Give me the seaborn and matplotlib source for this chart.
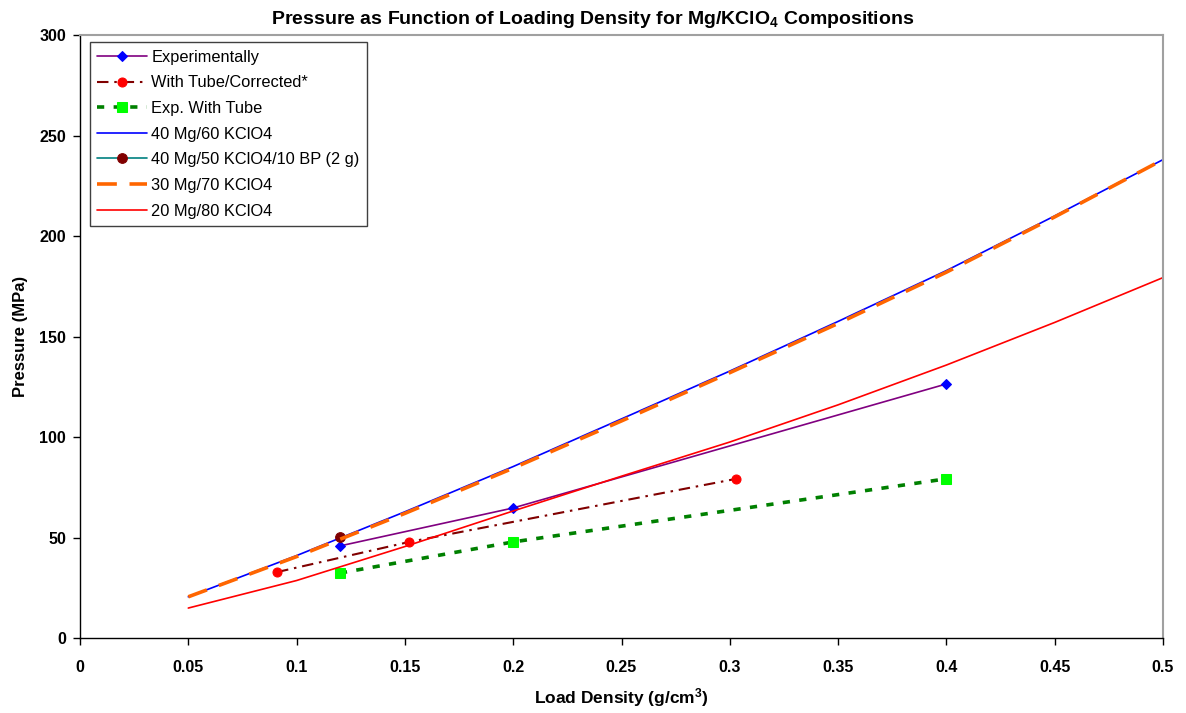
import matplotlib
matplotlib.use("Agg")
import matplotlib.pyplot as plt
import seaborn as sns

sns.set_theme(style="white")
plt.rcParams["font.family"] = ["Liberation Sans", "DejaVu Sans"]
plt.rcParams["mathtext.fontset"] = "custom"
plt.rcParams["mathtext.rm"] = "Liberation Sans:bold"
plt.rcParams["mathtext.bf"] = "Liberation Sans:bold"
plt.rcParams["mathtext.default"] = "rm"
plt.rcParams["text.color"] = "black"
plt.rcParams["axes.labelcolor"] = "black"
plt.rcParams["xtick.color"] = "black"
plt.rcParams["ytick.color"] = "black"

# Measured series
exp_x = [0.12, 0.2, 0.4]
exp_y = [45.8, 64.7, 126.4]

corr_x = [0.091, 0.152, 0.303]
corr_y = [32.8, 47.8, 79.2]

tube_x = [0.12, 0.2, 0.4]
tube_y = [32.3, 47.8, 79.2]

bp_x = [0.12]
bp_y = [50.4]

# Calculated curves
calc_x = [0.05, 0.1, 0.15, 0.2, 0.25, 0.3, 0.35, 0.4, 0.45, 0.5]
mg40_y = [20.5, 41.0, 62.8, 85.3, 109.0, 132.8, 157.5, 182.8, 210.0, 238.0]
mg30_y = [20.5, 40.5, 62.0, 84.5, 108.0, 132.0, 156.5, 182.0, 209.5, 238.0]
mg20_y = [14.9, 28.6, 45.5, 63.2, 80.5, 97.5, 116.0, 135.8, 157.0, 179.3]

x_ticks = [0, 0.05, 0.1, 0.15, 0.2, 0.25, 0.3, 0.35, 0.4, 0.45, 0.5]
x_tick_labels = ["0", "0.05", "0.1", "0.15", "0.2", "0.25", "0.3", "0.35", "0.4", "0.45", "0.5"]
y_ticks = [0, 50, 100, 150, 200, 250, 300]

fig = plt.figure(figsize=(11.86, 7.13), dpi=100)
ax = fig.add_axes([80 / 1186, 1 - 638 / 713, (1163 - 80) / 1186, (638 - 35) / 713])

sns.lineplot(x=exp_x, y=exp_y, ax=ax, color="#800080", lw=1.2, marker="D",
             markersize=5.5, markerfacecolor="#0000FF", markeredgecolor="#0000FF",
             label="Experimentally", sort=False)
sns.lineplot(x=corr_x, y=corr_y, ax=ax, color="#800000", lw=1.5, marker="o",
             markersize=6.5, markerfacecolor="#FF0000", markeredgecolor="#FF0000",
             linestyle=(0, (5.5, 2.8, 1.2, 2.8)),
             label="With Tube/Corrected*", sort=False)
sns.lineplot(x=tube_x, y=tube_y, ax=ax, color="#008000", lw=2.6, marker="s",
             markersize=6.5, markerfacecolor="#00FF00", markeredgecolor="#00FF00",
             linestyle=(0, (2.0, 2.6)), label="Exp. With Tube", sort=False)
sns.lineplot(x=calc_x, y=mg40_y, ax=ax, color="#0000FF", lw=1.2,
             label="40 Mg/60 KClO4", sort=False)
sns.lineplot(x=bp_x, y=bp_y, ax=ax, color="#008080", lw=1.2, marker="o",
             markersize=7, markerfacecolor="#800000", markeredgecolor="#800000",
             label="40 Mg/50 KClO4/10 BP (2 g)", sort=False)
sns.lineplot(x=calc_x, y=mg30_y, ax=ax, color="#FF6600", lw=2.6,
             linestyle=(0, (5.5, 3.5)), label="30 Mg/70 KClO4", sort=False)
sns.lineplot(x=calc_x, y=mg20_y, ax=ax, color="#FF0000", lw=1.2,
             label="20 Mg/80 KClO4", sort=False)

ax.set_xlim(0, 0.5)
ax.set_ylim(0, 300)
ax.set_xticks(x_ticks)
ax.set_xticklabels(x_tick_labels)
ax.set_yticks(y_ticks)
ax.tick_params(axis="both", direction="out", length=5, width=1, color="black",
               labelcolor="black", labelsize=11.5, pad=5, bottom=True, left=True)
for lab in ax.get_xticklabels() + ax.get_yticklabels():
    lab.set_fontweight("bold")
ax.tick_params(axis="x", pad=11)

for side in ("left", "bottom"):
    ax.spines[side].set_color("black")
    ax.spines[side].set_linewidth(1.0)
for side in ("top", "right"):
    ax.spines[side].set_color("#a0a0a0")
    ax.spines[side].set_linewidth(1.5)
ax.grid(False)

ax.set_xlabel("Load Density (g/cm$^3$)", fontsize=12.5, fontweight="bold", labelpad=8)
ax.set_ylabel("Pressure (MPa)", fontsize=12, fontweight="bold", labelpad=8)
fig.suptitle("Pressure as Function of Loading Density for Mg/KClO$_4$ Compositions",
             x=0.5, y=0.988, fontsize=14, fontweight="bold")

leg = ax.legend(loc="upper left", bbox_to_anchor=(0.0092, 0.988), fontsize=11.8,
                frameon=True, fancybox=False, numpoints=1, handlelength=3.0,
                handletextpad=0.3, labelspacing=0.65, borderpad=0.45,
                borderaxespad=0.0)
leg.get_frame().set_edgecolor("#404040")
leg.get_frame().set_linewidth(1.0)
leg.get_frame().set_alpha(1)
for t in leg.get_texts():
    t.set_color("black")

fig.savefig("out.png", dpi=100)
